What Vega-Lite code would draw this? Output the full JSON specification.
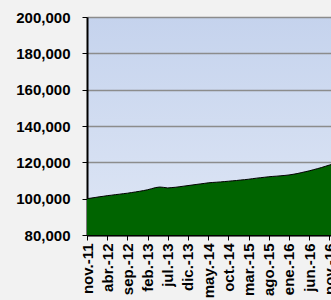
{
  "$schema": "https://vega.github.io/schema/vega-lite/v6.json",
  "autosize": "none",
  "width": 244,
  "height": 218,
  "padding": {"left": 87, "top": 17, "right": 0, "bottom": 65},
  "background": "#f2f2f2",
  "config": {
    "font": "Liberation Sans",
    "view": {
      "stroke": null,
      "fill": {"gradient": "linear", "x1": 0, "y1": 0, "x2": 0, "y2": 1,
        "stops": [{"offset": 0, "color": "#c5d3ed"}, {"offset": 1, "color": "#dee6f5"}]}
    }
  },
  "data": {
    "values": [
      {"m": 0, "month": "nov.-11", "value": 100000},
      {"m": 1, "month": "dic.-11", "value": 100300},
      {"m": 2, "month": "ene.-12", "value": 100650},
      {"m": 3, "month": "feb.-12", "value": 101000},
      {"m": 4, "month": "mar.-12", "value": 101300},
      {"m": 5, "month": "abr.-12", "value": 101650},
      {"m": 6, "month": "may.-12", "value": 101900},
      {"m": 7, "month": "jun.-12", "value": 102200},
      {"m": 8, "month": "jul.-12", "value": 102450},
      {"m": 9, "month": "ago.-12", "value": 102750},
      {"m": 10, "month": "sep.-12", "value": 103000},
      {"m": 11, "month": "oct.-12", "value": 103350},
      {"m": 12, "month": "nov.-12", "value": 103700},
      {"m": 13, "month": "dic.-12", "value": 104050},
      {"m": 14, "month": "ene.-13", "value": 104450},
      {"m": 15, "month": "feb.-13", "value": 104900},
      {"m": 16, "month": "mar.-13", "value": 105500},
      {"m": 17, "month": "abr.-13", "value": 106100},
      {"m": 18, "month": "may.-13", "value": 106400},
      {"m": 19, "month": "jun.-13", "value": 106200},
      {"m": 20, "month": "jul.-13", "value": 105900},
      {"m": 21, "month": "ago.-13", "value": 106100},
      {"m": 22, "month": "sep.-13", "value": 106300},
      {"m": 23, "month": "oct.-13", "value": 106600},
      {"m": 24, "month": "nov.-13", "value": 106900},
      {"m": 25, "month": "dic.-13", "value": 107200},
      {"m": 26, "month": "ene.-14", "value": 107500},
      {"m": 27, "month": "feb.-14", "value": 107800},
      {"m": 28, "month": "mar.-14", "value": 108100},
      {"m": 29, "month": "abr.-14", "value": 108400},
      {"m": 30, "month": "may.-14", "value": 108700},
      {"m": 31, "month": "jun.-14", "value": 108900},
      {"m": 32, "month": "jul.-14", "value": 109050},
      {"m": 33, "month": "ago.-14", "value": 109200},
      {"m": 34, "month": "sep.-14", "value": 109400},
      {"m": 35, "month": "oct.-14", "value": 109600},
      {"m": 36, "month": "nov.-14", "value": 109800},
      {"m": 37, "month": "dic.-14", "value": 110000},
      {"m": 38, "month": "ene.-15", "value": 110250},
      {"m": 39, "month": "feb.-15", "value": 110450},
      {"m": 40, "month": "mar.-15", "value": 110700},
      {"m": 41, "month": "abr.-15", "value": 111000},
      {"m": 42, "month": "may.-15", "value": 111300},
      {"m": 43, "month": "jun.-15", "value": 111550},
      {"m": 44, "month": "jul.-15", "value": 111800},
      {"m": 45, "month": "ago.-15", "value": 112050},
      {"m": 46, "month": "sep.-15", "value": 112250},
      {"m": 47, "month": "oct.-15", "value": 112400},
      {"m": 48, "month": "nov.-15", "value": 112600},
      {"m": 49, "month": "dic.-15", "value": 112800},
      {"m": 50, "month": "ene.-16", "value": 113050},
      {"m": 51, "month": "feb.-16", "value": 113400},
      {"m": 52, "month": "mar.-16", "value": 113800},
      {"m": 53, "month": "abr.-16", "value": 114300},
      {"m": 54, "month": "may.-16", "value": 114800},
      {"m": 55, "month": "jun.-16", "value": 115300},
      {"m": 56, "month": "jul.-16", "value": 115900},
      {"m": 57, "month": "ago.-16", "value": 116500},
      {"m": 58, "month": "sep.-16", "value": 117100},
      {"m": 59, "month": "oct.-16", "value": 117800},
      {"m": 60, "month": "nov.-16", "value": 118500},
      {"m": 61, "month": "dic.-16", "value": 119100}
    ]
  },
  "mark": {"type": "area", "color": "#006400", "opacity": 1, "clip": true,
    "line": {"color": "#000000", "strokeWidth": 1}},
  "encoding": {
    "x": {
      "field": "m", "type": "quantitative",
      "scale": {"domain": [0, 60.4], "nice": false, "zero": false},
      "axis": {
        "title": null,
        "values": [0, 5, 10, 15, 20, 25, 30, 35, 40, 45, 50, 55, 60],
        "labelExpr": "['nov.-11','abr.-12','sep.-12','feb.-13','jul.-13','dic.-13','may.-14','oct.-14','mar.-15','ago.-15','ene.-16','jun.-16','nov.-16'][round(datum.value/5)]",
        "labelAngle": -90,
        "labelAlign": "right",
        "labelBaseline": "middle",
        "labelFont": "Liberation Sans",
        "labelFontWeight": "bold",
        "labelFontSize": 15,
        "labelColor": "#000000",
        "labelPadding": 3,
        "labelOverlap": false,
        "labelFlush": false,
        "labelBound": false,
        "grid": false,
        "domainColor": "#000000",
        "domainWidth": 2,
        "tickColor": "#000000",
        "tickSize": 5,
        "tickWidth": 1
      }
    },
    "y": {
      "field": "value", "type": "quantitative",
      "scale": {"domain": [80000, 200000], "nice": false, "zero": false},
      "axis": {
        "title": null,
        "values": [80000, 100000, 120000, 140000, 160000, 180000, 200000],
        "format": ",d",
        "labelFont": "Liberation Sans",
        "labelFontWeight": "bold",
        "labelFontSize": 15,
        "labelColor": "#000000",
        "labelPadding": 12,
        "grid": true,
        "gridColor": "#8c8c8c",
        "gridWidth": 1.5,
        "domainColor": "#000000",
        "domainWidth": 2,
        "tickColor": "#000000",
        "tickSize": 5,
        "tickWidth": 1
      }
    }
  }
}
